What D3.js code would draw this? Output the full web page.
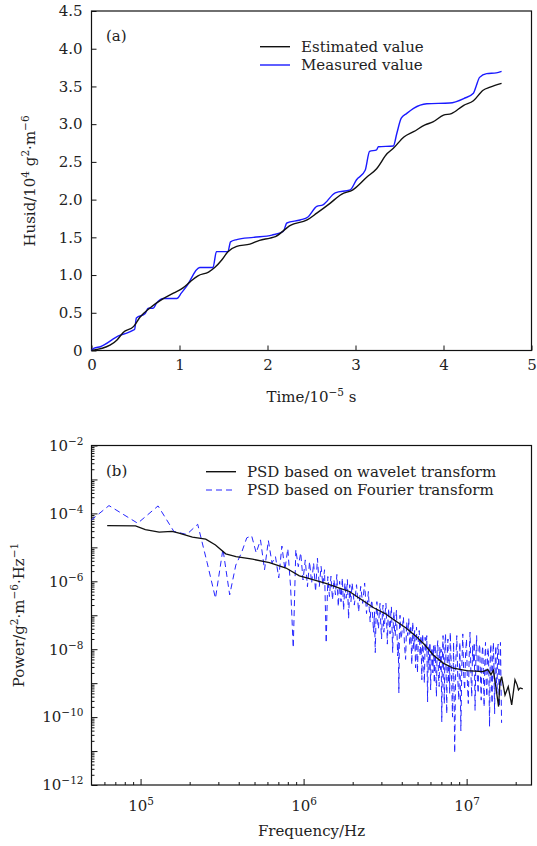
<!DOCTYPE html>
<html>
<head>
<meta charset="utf-8">
<script src="https://cdn.jsdelivr.net/npm/d3@7"></script>
<style>
body { margin: 0; background: #fff; }
text { font-family: "DejaVu Serif", serif; fill: #222; }
</style>
</head>
<body>
<svg id="chart" width="537" height="846"></svg>
<script>
// ---------- data, panel (a): Husid curves, time in 1e-5 s, value in 1e4 g^2 m^-6
var estTime  = [0, 0.21, 0.29, 0.36, 0.48, 0.55, 0.66, 0.82, 0.93, 1.04, 1.12, 1.21, 1.33, 1.40, 1.48, 1.55, 1.65, 1.80, 1.91, 2.03, 2.09, 2.26, 2.45, 2.56, 2.71, 2.84, 2.97, 3.13, 3.24, 3.36, 3.43, 3.55, 3.66, 3.79, 3.88, 4.00, 4.09, 4.23, 4.34, 4.45, 4.53, 4.66];
var estValue = [0, 0.07, 0.14, 0.24, 0.32, 0.44, 0.56, 0.69, 0.76, 0.83, 0.91, 0.99, 1.04, 1.10, 1.20, 1.31, 1.38, 1.41, 1.46, 1.49, 1.51, 1.66, 1.73, 1.82, 1.95, 2.07, 2.13, 2.30, 2.41, 2.61, 2.68, 2.83, 2.90, 2.99, 3.03, 3.12, 3.14, 3.25, 3.31, 3.45, 3.49, 3.54];
var measTime  = [0, 0.03, 0.10, 0.32, 0.40, 0.475, 0.49, 0.51, 0.61, 0.645, 0.70, 0.74, 0.82, 0.97, 1.02, 1.08, 1.23, 1.38, 1.42, 1.55, 1.58, 1.65, 1.84, 2.05, 2.18, 2.22, 2.37, 2.46, 2.56, 2.63, 2.77, 2.94, 3.01, 3.11, 3.16, 3.24, 3.26, 3.43, 3.47, 3.52, 3.58, 3.66, 3.81, 4.07, 4.23, 4.34, 4.37, 4.41, 4.49, 4.60, 4.66];
var measValue = [0, 0.03, 0.05, 0.20, 0.23, 0.27, 0.28, 0.43, 0.49, 0.56, 0.56, 0.63, 0.69, 0.69, 0.76, 0.85, 1.10, 1.10, 1.31, 1.31, 1.44, 1.47, 1.50, 1.53, 1.58, 1.69, 1.73, 1.77, 1.91, 1.93, 2.09, 2.13, 2.26, 2.39, 2.64, 2.66, 2.70, 2.71, 2.88, 3.08, 3.14, 3.21, 3.27, 3.28, 3.34, 3.41, 3.50, 3.62, 3.67, 3.68, 3.70];
var timeTicks  = [0, 1, 2, 3, 4, 5];
var husidTicks = [0, 0.5, 1.0, 1.5, 2.0, 2.5, 3.0, 3.5, 4.0, 4.5];

// ---------- data, panel (b): PSD, [frequency in MHz, log10 of power]
var waveletPSD = [
  [0.0624, -4.36], [0.0931, -4.37], [0.107, -4.48], [0.130, -4.55], [0.156, -4.53], [0.172, -4.58],
  [0.208, -4.70], [0.251, -4.76], [0.288, -4.93], [0.333, -5.19], [0.385, -5.27], [0.486, -5.35],
  [0.617, -5.45], [0.780, -5.61], [0.942, -5.84], [1.06, -5.91], [1.37, -6.06], [1.66, -6.20],
  [1.91, -6.30], [2.20, -6.50], [2.69, -6.78], [3.16, -6.95], [3.47, -7.09], [4.27, -7.38],
  [4.92, -7.63], [5.53, -7.87], [6.24, -8.17], [7.18, -8.41], [8.28, -8.56], [10.0, -8.63],
  [12.6, -8.66], [13.5, -8.60], [14.1, -8.75], [14.6, -8.62], [15.1, -9.10], [15.7, -9.69],
  [16.0, -9.00], [16.4, -8.81], [17.2, -9.35], [18.0, -9.10], [18.9, -9.64], [19.8, -8.90],
  [20.4, -9.05], [20.8, -9.20], [21.3, -9.14], [22.1, -9.17]
];
var fourierPSD = [
  [0.032, -4.95], [0.064, -3.77], [0.096, -4.29], [0.128, -3.78], [0.16, -4.53], [0.192, -4.62],
  [0.224, -4.32], [0.256, -5.45], [0.288, -6.50], [0.32, -5.05], [0.352, -6.40], [0.384, -5.52],
  [0.416, -5.16], [0.448, -4.72], [0.48, -4.66], [0.512, -5.16], [0.544, -4.78], [0.576, -5.66],
  [0.608, -4.80], [0.64, -5.46], [0.672, -5.27], [0.704, -5.90], [0.736, -4.96], [0.768, -5.66],
  [0.80, -5.04], [0.832, -6.16], [0.864, -7.96], [0.896, -5.07], [0.928, -5.57], [0.96, -5.16],
  [0.992, -5.96], [1.024, -5.37], [1.056, -6.16], [1.088, -5.42], [1.12, -6.06], [1.152, -5.46],
  [1.184, -6.30], [1.216, -5.32], [1.248, -6.16], [1.28, -5.56], [1.312, -6.11], [1.344, -5.66],
  [1.376, -7.82], [1.408, -5.86], [1.44, -6.45], [1.472, -5.85], [1.504, -6.55], [1.536, -5.95],
  [1.568, -6.40], [1.60, -5.80], [1.632, -6.75], [1.664, -6.00], [1.696, -6.60], [1.728, -5.90],
  [1.76, -6.85], [1.792, -6.05], [1.824, -6.50], [1.856, -5.95], [1.888, -7.10], [1.92, -6.10],
  [1.952, -6.60], [1.984, -6.05], [2.048, -6.70], [2.112, -6.10], [2.176, -6.90], [2.24, -6.15],
  [2.304, -6.65], [2.368, -6.05], [2.432, -6.95], [2.496, -6.30], [2.528, -6.80], [2.56, -7.20],
  [2.592, -6.70], [2.624, -6.55], [2.656, -7.10], [2.688, -7.50], [2.72, -6.90], [2.752, -8.10],
  [2.784, -7.00], [2.816, -6.60], [2.848, -7.20], [2.88, -7.40], [2.912, -6.90], [2.944, -6.65],
  [2.976, -7.30], [3.008, -7.70], [3.04, -7.00], [3.072, -6.70], [3.104, -7.50], [3.136, -7.30],
  [3.168, -6.90], [3.20, -6.65], [3.232, -7.20], [3.264, -7.85], [3.296, -7.10], [3.328, -6.80],
  [3.36, -7.30], [3.392, -7.55], [3.424, -7.00], [3.456, -6.75], [3.488, -7.40], [3.52, -8.10],
  [3.552, -7.20], [3.584, -6.90], [3.616, -7.50], [3.648, -7.60], [3.68, -7.10], [3.712, -6.85],
  [3.744, -7.60], [3.776, -8.20], [3.808, -7.80], [3.84, -9.29], [3.872, -7.40], [3.904, -7.00],
  [3.936, -7.50], [3.968, -7.70], [4.032, -7.40], [4.096, -7.05], [4.16, -7.90], [4.224, -8.30],
  [4.288, -7.20], [4.352, -7.60], [4.416, -7.10], [4.48, -7.90], [4.544, -7.30], [4.608, -8.45],
  [4.672, -7.20], [4.736, -8.00], [4.80, -7.45], [4.864, -8.55], [4.928, -7.35], [4.992, -8.70],
  [5.056, -7.70], [5.12, -7.45], [5.184, -8.20], [5.248, -7.60], [5.312, -8.90], [5.376, -7.55],
  [5.44, -8.30], [5.504, -9.00], [5.568, -7.65], [5.632, -8.10], [5.696, -7.60], [5.76, -9.55],
  [5.824, -7.90], [5.888, -8.60], [5.952, -7.80], [6.016, -9.20], [6.08, -8.10], [6.144, -7.95],
  [6.208, -8.70], [6.272, -7.90], [6.336, -9.00], [6.40, -7.85], [6.464, -8.50], [6.528, -9.40],
  [6.592, -8.00], [6.656, -7.75], [6.72, -8.80], [6.784, -9.10], [6.848, -7.95], [6.912, -8.60],
  [6.976, -8.00], [7.04, -10.14], [7.104, -8.20], [7.168, -7.60], [7.232, -8.70], [7.296, -9.60],
  [7.36, -7.90], [7.424, -7.55], [7.488, -8.80], [7.552, -9.90], [7.616, -8.10], [7.68, -7.70],
  [7.744, -9.00], [7.808, -8.30], [7.872, -9.30], [7.936, -7.50], [8.064, -8.60], [8.192, -10.00],
  [8.32, -7.80], [8.448, -11.06], [8.576, -8.40], [8.704, -7.60], [8.832, -8.90], [8.96, -9.50],
  [9.088, -7.80], [9.216, -10.40], [9.344, -8.50], [9.472, -7.55], [9.60, -8.80], [9.728, -9.20],
  [9.856, -8.10], [9.984, -7.70], [10.112, -9.00], [10.24, -9.60], [10.368, -8.20], [10.496, -7.50],
  [10.624, -8.70], [10.752, -9.40], [10.88, -7.90], [11.008, -8.40], [11.136, -7.80], [11.264, -9.80],
  [11.392, -8.30], [11.52, -7.60], [11.648, -8.90], [11.776, -9.30], [11.904, -8.00], [12.032, -7.85],
  [12.16, -8.80], [12.288, -9.50], [12.416, -8.20], [12.544, -7.90], [12.672, -8.60], [12.80, -9.70],
  [12.928, -8.40], [13.056, -7.80], [13.184, -9.00], [13.312, -9.40], [13.44, -8.10], [13.568, -7.95],
  [13.696, -8.70], [13.824, -10.28], [13.952, -8.30], [14.08, -7.85], [14.208, -9.10], [14.336, -9.60],
  [14.464, -8.20], [14.592, -7.80], [14.72, -8.60], [14.848, -9.90], [14.976, -8.40], [15.104, -7.90],
  [15.232, -8.90], [15.36, -9.30], [15.488, -8.00], [15.616, -7.85], [15.744, -8.80], [15.872, -9.70],
  [16.0, -8.50], [16.128, -7.80], [16.256, -9.00], [16.384, -10.17]
];
var freqMajorTicks = [1e5, 1e6, 1e7];
var freqMinorTicks = [6e4, 7e4, 8e4, 9e4, 2e5, 3e5, 4e5, 5e5, 6e5, 7e5, 8e5, 9e5, 2e6, 3e6, 4e6, 5e6, 6e6, 7e6, 8e6, 9e6, 2e7];
var powerExponents = [-12, -11, -10, -9, -8, -7, -6, -5, -4, -3, -2];

var svg = d3.select('#chart');
var fs = 15, supFs = 10.5;

// text with superscripts, parts = [[string, isSup], ...]
function richText(sel, parts) {
  var prevSup = false;
  parts.forEach(function(p) {
    var t = sel.append('tspan').text(p[0]);
    if (p[1]) t.attr('font-size', supFs);
    if (p[1] && !prevSup) t.attr('dy', -6);
    if (!p[1] && prevSup) t.attr('dy', 6);
    prevSup = p[1];
  });
  return sel;
}

function styleAxis(g) {
  g.select('.domain').remove();
  g.attr('font-family', null).attr('font-size', null);
  g.selectAll('.tick line').attr('stroke', '#111');
  g.selectAll('.tick text').attr('font-size', fs).attr('fill', '#222');
}

// ================= panel (a)
var xa = d3.scaleLinear().domain([0, 5]).range([91.5, 531.5]);
var ya = d3.scaleLinear().domain([0, 4.5]).range([350.5, 11]);
var ga = svg.append('g');

ga.append('g').attr('transform', 'translate(0,350.5)')
  .call(d3.axisBottom(xa).tickValues(timeTicks).tickSize(-5).tickPadding(9).tickFormat(d3.format('d')))
  .call(styleAxis);
ga.append('g').attr('transform', 'translate(91.5,0)')
  .call(d3.axisLeft(ya).tickValues(husidTicks).tickSize(-5).tickPadding(9)
    .tickFormat(function(d) { return d === 0 ? '0' : d.toFixed(1); }))
  .call(styleAxis);

ga.append('rect').attr('x', 91.5).attr('y', 11).attr('width', 440).attr('height', 339.5)
  .attr('fill', 'none').attr('stroke', '#111').attr('stroke-width', 1.2);

var lineA = d3.line().curve(d3.curveMonotoneX);
ga.append('path')
  .attr('d', lineA(measTime.map(function(t, i) { return [xa(t), ya(measValue[i])]; })))
  .attr('fill', 'none').attr('stroke', '#1a1aff').attr('stroke-width', 1.4);
ga.append('path')
  .attr('d', lineA(estTime.map(function(t, i) { return [xa(t), ya(estValue[i])]; })))
  .attr('fill', 'none').attr('stroke', '#111').attr('stroke-width', 1.4);

ga.append('text').attr('x', 106).attr('y', 41).attr('font-size', fs).text('(a)');
var legA = [['Estimated value', '#111'], ['Measured value', '#1a1aff']];
legA.forEach(function(l, i) {
  var yy = 46.7 + i * 18.3;
  ga.append('line').attr('x1', 260).attr('x2', 290).attr('y1', yy).attr('y2', yy)
    .attr('stroke', l[1]).attr('stroke-width', 1.4);
  ga.append('text').attr('x', 301).attr('y', yy + 5).attr('font-size', fs).text(l[0]);
});

richText(ga.append('text').attr('font-size', fs).attr('text-anchor', 'middle')
  .attr('x', 311.5).attr('y', 402), [['Time/10', false], ['\u22125', true], [' s', false]]);
richText(ga.append('text').attr('font-size', fs).attr('text-anchor', 'middle')
  .attr('transform', 'translate(35,181) rotate(-90)'),
  [['Husid/10', false], ['4', true], [' g', false], ['2', true], ['\u00b7m', false], ['\u22126', true]]);

// ================= panel (b)
var xb = d3.scaleLog().domain([5e4, 2.5e7]).range([91.5, 531.5]);
var yb = d3.scaleLog().domain([1e-12, 1e-2]).range([785, 445.5]);
var gb = svg.append('g');

gb.append('defs').append('clipPath').attr('id', 'clipb')
  .append('rect').attr('x', 91.5).attr('y', 445.5).attr('width', 440).attr('height', 339.5);

// minor ticks
var minorY = [];
powerExponents.slice(0, -1).forEach(function(e) {
  for (var m = 2; m <= 9; m++) minorY.push(m * Math.pow(10, e));
});
gb.append('g').attr('transform', 'translate(91.5,0)')
  .call(d3.axisLeft(yb).tickValues(minorY).tickSize(-3).tickFormat(''))
  .call(styleAxis);
gb.append('g').attr('transform', 'translate(0,785)')
  .call(d3.axisBottom(xb).tickValues(freqMinorTicks).tickSize(-3).tickFormat(''))
  .call(styleAxis);

// major ticks with powers of ten
var yAxisB = gb.append('g').attr('transform', 'translate(91.5,0)')
  .call(d3.axisLeft(yb).tickValues(powerExponents.map(function(e) { return Math.pow(10, e); }))
    .tickSize(-6).tickPadding(8).tickFormat(''))
  .call(styleAxis);
yAxisB.selectAll('.tick').each(function(d) {
  var e = Math.round(Math.log10(d));
  if (e % 2 !== 0) return;
  richText(d3.select(this).append('text').attr('x', -8).attr('dy', '0.32em')
    .attr('text-anchor', 'end').attr('font-size', fs).attr('fill', '#222'),
    [['10', false], ['\u2212' + Math.abs(e), true]]);
});
var xAxisB = gb.append('g').attr('transform', 'translate(0,785)')
  .call(d3.axisBottom(xb).tickValues(freqMajorTicks).tickSize(-6).tickFormat(''))
  .call(styleAxis);
xAxisB.selectAll('.tick').each(function(d) {
  richText(d3.select(this).append('text').attr('y', 26).attr('text-anchor', 'middle')
    .attr('font-size', fs).attr('fill', '#222'),
    [['10', false], [String(Math.round(Math.log10(d))), true]]);
});

gb.append('rect').attr('x', 91.5).attr('y', 445.5).attr('width', 440).attr('height', 339.5)
  .attr('fill', 'none').attr('stroke', '#111').attr('stroke-width', 1.2);

var lineB = d3.line()
  .x(function(d) { return xb(d[0] * 1e6); })
  .y(function(d) { return yb(Math.pow(10, d[1])); });
var plotB = gb.append('g').attr('clip-path', 'url(#clipb)');
plotB.append('path').attr('d', lineB(fourierPSD))
  .attr('fill', 'none').attr('stroke', '#2525ff').attr('stroke-width', 1)
  .attr('stroke-dasharray', '6,4');
plotB.append('path').attr('d', lineB(waveletPSD))
  .attr('fill', 'none').attr('stroke', '#111').attr('stroke-width', 1.3);

gb.append('text').attr('x', 106).attr('y', 476).attr('font-size', fs).text('(b)');
var legB = [['PSD based on wavelet transform', '#111', null], ['PSD based on Fourier transform', '#2525ff', '6,4']];
legB.forEach(function(l, i) {
  var yy = 471.7 + i * 18.3;
  gb.append('line').attr('x1', 206).attr('x2', 236).attr('y1', yy).attr('y2', yy)
    .attr('stroke', l[1]).attr('stroke-width', l[2] ? 1 : 1.4).attr('stroke-dasharray', l[2]);
  gb.append('text').attr('x', 247).attr('y', yy + 5).attr('font-size', fs).text(l[0]);
});

gb.append('text').attr('font-size', fs).attr('text-anchor', 'middle')
  .attr('x', 311.5).attr('y', 836).text('Frequency/Hz');
richText(gb.append('text').attr('font-size', fs).attr('text-anchor', 'middle')
  .attr('transform', 'translate(24,615) rotate(-90)'),
  [['Power/g', false], ['2', true], ['\u00b7m', false], ['\u22126', true], ['\u00b7Hz', false], ['\u22121', true]]);
</script>
</body>
</html>
